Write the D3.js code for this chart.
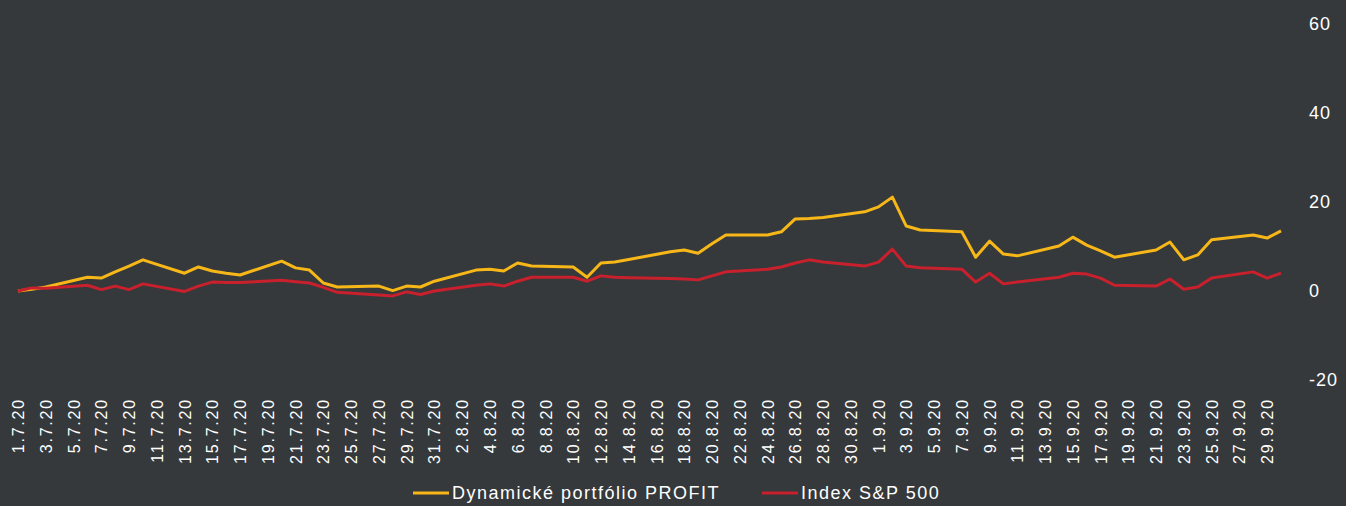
<!DOCTYPE html>
<html>
<head>
<meta charset="utf-8">
<script src="https://cdn.jsdelivr.net/npm/d3@7"></script>
<style>
  html, body { margin: 0; padding: 0; background: #35393b; }
  svg { display: block; }
  text { font-family: "Liberation Sans", Arial, sans-serif; fill: #ffffff; }
</style>
</head>
<body>
<svg id="chart" width="1346" height="506"></svg>
<script>
// Calendar categories (every day 1.7.2020 – 30.9.2020)
const months = [{m: 7, days: 31}, {m: 8, days: 31}, {m: 9, days: 30}];
const categories = [];
months.forEach(o => { for (let d = 1; d <= o.days; d++) categories.push(d + "." + o.m + ".20"); });

// Tick labels: every second day
const tickLabels = categories.filter((c, i) => i % 2 === 0);

// Trading days with values (% performance)
const dates = [
  "1.7.20","2.7.20","3.7.20","6.7.20","7.7.20","8.7.20","9.7.20","10.7.20",
  "13.7.20","14.7.20","15.7.20","16.7.20","17.7.20","20.7.20","21.7.20","22.7.20",
  "23.7.20","24.7.20","27.7.20","28.7.20","29.7.20","30.7.20","31.7.20",
  "3.8.20","4.8.20","5.8.20","6.8.20","7.8.20","10.8.20","11.8.20","12.8.20",
  "13.8.20","14.8.20","17.8.20","18.8.20","19.8.20","20.8.20","21.8.20","24.8.20",
  "25.8.20","26.8.20","27.8.20","28.8.20","31.8.20",
  "1.9.20","2.9.20","3.9.20","4.9.20","7.9.20","8.9.20","9.9.20","10.9.20","11.9.20",
  "14.9.20","15.9.20","16.9.20","17.9.20","18.9.20","21.9.20","22.9.20","23.9.20",
  "24.9.20","25.9.20","28.9.20","29.9.20","30.9.20"
];

const profitValues = [
  0, 0.4, 0.9, 3.1, 2.9, 4.3, 5.6, 7.0,
  4.0, 5.4, 4.5, 4.0, 3.6, 6.7, 5.2, 4.7,
  1.8, 0.9, 1.1, 0.1, 1.1, 0.9, 2.2,
  4.7, 4.9, 4.5, 6.3, 5.6, 5.4, 3.1, 6.3,
  6.5, 7.1, 8.8, 9.2, 8.5, 10.6, 12.6, 12.6,
  13.3, 16.2, 16.3, 16.5, 17.8,
  18.9, 21.1, 14.6, 13.7, 13.3, 7.6, 11.2, 8.3, 7.9,
  10.1, 12.1, 10.3, 9.0, 7.6, 9.2, 11.0, 7.0,
  8.1, 11.5, 12.6, 11.9, 13.5
];

const spValues = [
  0, 0.7, 0.6, 1.3, 0.3, 1.1, 0.3, 1.6,
  -0.1, 1.1, 2.0, 1.9, 1.9, 2.4, 2.1, 1.8,
  0.8, -0.3, -0.9, -1.1, -0.2, -0.8, 0.0,
  1.3, 1.6, 1.1, 2.2, 3.1, 3.1, 2.2, 3.4,
  3.1, 3.0, 2.8, 2.7, 2.5, 3.4, 4.3, 4.9,
  5.4, 6.3, 7.0, 6.5, 5.6,
  6.5, 9.4, 5.6, 5.2, 4.9, 2.0, 4.0, 1.6, 2.0,
  3.1, 4.0, 3.8, 2.9, 1.3, 1.1, 2.7, 0.4,
  0.9, 2.9, 4.3, 2.9, 4.0
];

const yTicks = [-20, 0, 20, 40, 60];
const seriesNames = ["Dynamické portfólio PROFIT", "Index S&P 500"];
const seriesColors = ["#f7b718", "#c8202c"];

const svg = d3.select("#chart");

const x = d3.scalePoint().domain(categories).range([18, 1281]).padding(0);
const y = d3.scaleLinear().domain([-20, 60]).range([380, 24]);

// Y axis on the right
const yAxis = d3.axisRight(y).tickValues(yTicks).tickFormat(d => String(d)).tickSize(0).tickPadding(0);
const gy = svg.append("g").attr("transform", "translate(1309,0)").call(yAxis);
gy.select(".domain").remove();
gy.selectAll("text")
  .attr("x", 0)
  .style("font-size", "18px")
  .style("letter-spacing", "1px")
  .style("fill", "#ffffff")
  .attr("text-anchor", "start");

// X axis labels (rotated)
const xAxis = d3.axisBottom(x).tickValues(tickLabels).tickSize(0).tickPadding(0);
const gx = svg.append("g").attr("transform", "translate(0,398)").call(xAxis);
gx.select(".domain").remove();
gx.selectAll("text")
  .attr("transform", "rotate(-90)")
  .attr("x", 0)
  .attr("y", 0)
  .attr("dy", "0.35em")
  .attr("text-anchor", "end")
  .style("font-size", "16px")
  .style("letter-spacing", "1.8px")
  .style("fill", "#ffffff");

// Lines
const series = [
  {name: seriesNames[0], values: profitValues, color: seriesColors[0]},
  {name: seriesNames[1], values: spValues, color: seriesColors[1]}
];
const line = d3.line()
  .x((d, i) => x(dates[i]))
  .y(d => y(d));

series.forEach(s => {
  svg.append("path")
    .datum(s.values)
    .attr("fill", "none")
    .attr("stroke", s.color)
    .attr("stroke-width", 3)
    .attr("stroke-linejoin", "round")
    .attr("d", line);
});

// Legend
const legend = svg.append("g").attr("transform", "translate(0,493)");
const items = [{x: 413, i: 0}, {x: 762, i: 1}];
items.forEach(it => {
  legend.append("line")
    .attr("x1", it.x).attr("x2", it.x + 36)
    .attr("y1", 0).attr("y2", 0)
    .attr("stroke", seriesColors[it.i]).attr("stroke-width", 3);
  legend.append("text")
    .attr("x", it.x + 39).attr("y", 0).attr("dy", "0.35em")
    .style("font-size", "18px")
    .style("letter-spacing", "1.5px")
    .text(seriesNames[it.i]);
});
</script>
</body>
</html>
